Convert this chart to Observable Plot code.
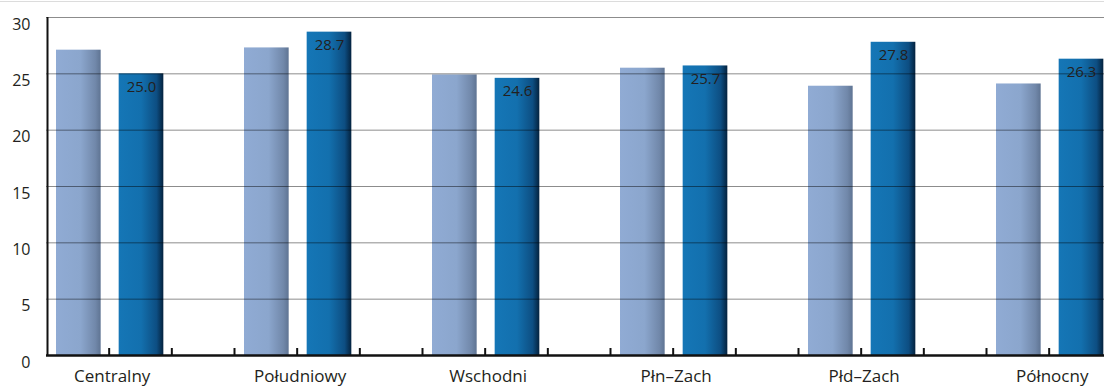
<!DOCTYPE html>
<html>
<head>
<meta charset="utf-8">
<script src="https://cdn.jsdelivr.net/npm/d3@7"></script>
<script src="https://cdn.jsdelivr.net/npm/@observablehq/plot@0.6"></script>
<style>
  html, body { margin: 0; padding: 0; background: #fff; overflow: hidden; }
  #chart { position: relative; width: 1104px; height: 387px; overflow: hidden; }
  #chart::before { content: ""; position: absolute; left: 0; right: 0; top: 1px; height: 1px; background: #dcdcdc; }
</style>
</head>
<body>
<div id="chart"></div>
<script>
const categories = ["Centralny", "Południowy", "Wschodni", "Płn–Zach", "Płd–Zach", "Północny"];
const previous = [27.1, 27.3, 24.9, 25.5, 23.9, 24.1];
const current = [25.0, 28.7, 24.6, 25.7, 27.8, 26.3];
const yTicks = [0, 5, 10, 15, 20, 25, 30];

const prevRows = categories.map((c, i) => ({category: c, slot: 3 * i, value: previous[i]}));
const currRows = categories.map((c, i) => ({category: c, slot: 3 * i + 1, value: current[i]}));
const slotTicks = d3.range(1, categories.length * 3 + 1);
const labelTicks = categories.map((c, i) => 3 * i + 1);

const font = "'Open Sans', 'Noto Sans', sans-serif";

const svg = Plot.plot({
  width: 1104,
  height: 387,
  marginLeft: 46,
  marginRight: 0,
  marginTop: 17,
  marginBottom: 32,
  style: {fontFamily: font, background: "#fff", color: "#231f20", overflow: "hidden"},
  x: {type: "linear", domain: [0, categories.length * 3], range: [46, 46 + categories.length * 188]},
  y: {domain: [0, 30]},
  marks: [
    Plot.rectY(prevRows, {x1: d => d.slot, x2: d => d.slot + 1, y: "value", insetLeft: 10, insetRight: 8, fill: "url(#gLight)"}),
    Plot.rectY(currRows, {x1: d => d.slot, x2: d => d.slot + 1, y: "value", insetLeft: 10, insetRight: 8, fill: "url(#gDark)"}),
    Plot.gridY({ticks: yTicks, stroke: "#000", strokeOpacity: 0.45, strokeWidth: 1}),
    Plot.text(currRows, {x: d => d.slot + 0.5, y: "value", text: d => d.value.toFixed(1), dy: 13, dx: 1, fontSize: 15, fill: "#231f20"}),
    Plot.axisY({ticks: yTicks, tickSize: 0, tickPadding: 16, dy: 7, fontSize: 16, label: null, tickFormat: d => d}),
    Plot.axisX({ticks: slotTicks, tickSize: -7, strokeWidth: 2, stroke: "#111", tickFormat: () => "", label: null}),
    Plot.axisX({ticks: labelTicks, tickSize: 0, tickPadding: 14, dx: 3, fontSize: 17, label: null, tickFormat: d => categories[(d - 1) / 3]}),
    Plot.ruleY([0], {stroke: "#111", strokeWidth: 2.5}),
    Plot.ruleX([0], {stroke: "#111", strokeWidth: 2, dx: 1})
  ]
});

d3.select(svg).insert("defs", ":first-child").html(`
  <linearGradient id="gLight" x1="0" x2="1" y1="0" y2="0">
    <stop offset="0" stop-color="#90abd4"/>
    <stop offset="0.55" stop-color="#8ba6cd"/>
    <stop offset="0.88" stop-color="#7188aa"/>
    <stop offset="1" stop-color="#5f7493"/>
  </linearGradient>
  <linearGradient id="gDark" x1="0" x2="1" y1="0" y2="0">
    <stop offset="0" stop-color="#1576b6"/>
    <stop offset="0.5" stop-color="#1370ae"/>
    <stop offset="0.85" stop-color="#0d4e82"/>
    <stop offset="1" stop-color="#04223e"/>
  </linearGradient>
`);

document.getElementById("chart").appendChild(svg);
</script>
</body>
</html>
